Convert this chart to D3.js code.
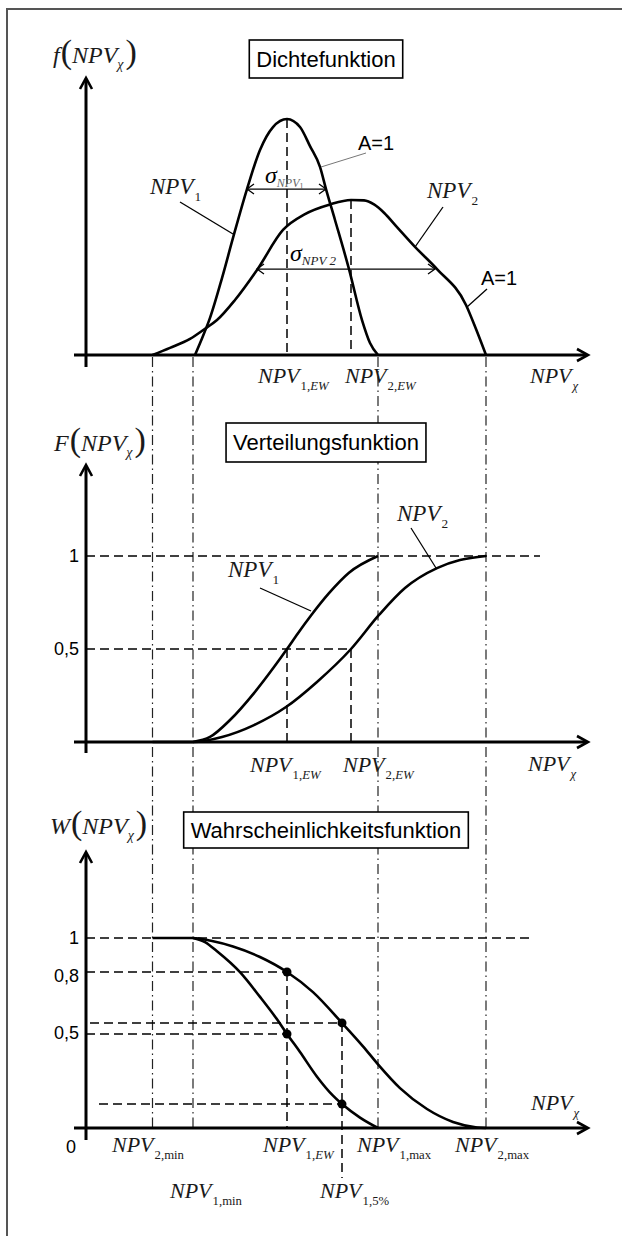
<!DOCTYPE html>
<html><head><meta charset="utf-8">
<script src="https://cdn.jsdelivr.net/npm/d3@7"></script>
<style>html,body{margin:0;padding:0;background:#fff;}svg{display:block;}</style>
</head><body>
<svg id="c" width="622" height="1236"></svg>
<script>
// ---------------- DATA ----------------
// reference NPV values (abstract units on the NPV axis)
const refNames  = ["NPV2,min", "NPV1,min", "NPV1,EW", "NPV1,5%", "NPV2,EW", "NPV1,max", "NPV2,max"];
const refValues = [13.3, 21.4, 40.2, 51.2, 53.0, 58.4, 80.0];

// density functions f(NPV)
const dens1X = [21.8, 22.8, 24.8, 27.2, 29.4, 32.2, 34.8, 37.4, 40.2, 42.8, 44.8, 46.8, 48.0, 49.8, 52.6, 55.2, 56.8, 58.4];
const dens1Y = [0, 0.05, 0.157, 0.326, 0.496, 0.703, 0.869, 0.966, 1.0, 0.966, 0.885, 0.797, 0.703, 0.572, 0.364, 0.148, 0.051, 0];
const dens2X = [13.3, 16.8, 20.8, 24.0, 26.2, 29.8, 34.2, 39.4, 43.8, 48.8, 53.0, 55.6, 57.6, 59.6, 62.2, 65.8, 70.2, 76.0, 78.0, 80.0];
const dens2Y = [0, 0.030, 0.068, 0.114, 0.148, 0.233, 0.360, 0.530, 0.597, 0.638, 0.657, 0.655, 0.638, 0.603, 0.542, 0.458, 0.364, 0.212, 0.110, 0];

// distribution functions F(NPV)
const cdf1X = [21.4, 24.8, 28.8, 33.6, 37.6, 40.2, 42.4, 45.0, 48.6, 52.6, 58.4];
const cdf1Y = [0, 0.027, 0.118, 0.263, 0.403, 0.5, 0.585, 0.68, 0.80, 0.91, 1.0];
const cdf2X = [13.3, 21.4, 27.2, 33.6, 40.0, 46.2, 53.0, 58.6, 63.8, 70.2, 74.8, 80.0];
const cdf2Y = [0, 0.0, 0.027, 0.091, 0.188, 0.323, 0.5, 0.683, 0.828, 0.935, 0.978, 1.0];

// probability functions W(NPV)
const w2X = [13.3, 21.4, 25.0, 29.4, 34.8, 40.2, 45.4, 51.2, 55.4, 58.4, 62.8, 68.2, 73.4, 78.2, 80.0];
const w2Y = [1.0, 1.0, 0.985, 0.955, 0.90, 0.821, 0.715, 0.553, 0.43, 0.335, 0.21, 0.10, 0.032, 0.003, 0];
const w1X = [21.4, 23.8, 26.2, 30.8, 34.8, 38.2, 40.2, 42.8, 46.2, 49.4, 51.2, 54.8, 58.4];
const w1Y = [1.0, 0.978, 0.93, 0.82, 0.69, 0.572, 0.495, 0.40, 0.27, 0.17, 0.126, 0.055, 0];

// marked points on W curves
const wDotX = [40.2, 51.2, 40.2, 51.2];
const wDotY = [0.821, 0.553, 0.495, 0.126];

// tick labels
const fTickVals = [1, 0.5];
const fTickLabels = ["1", "0,5"];
const wTickVals = [1, 0.8, 0.5];
const wTickLabels = ["1", "0,8", "0,5"];

const titles = ["Dichtefunktion", "Verteilungsfunktion", "Wahrscheinlichkeitsfunktion"];

// ---------------- DRAW ----------------
const serif = "'Liberation Serif','Times New Roman',serif";
const sans = "'Liberation Sans',Arial,sans-serif";
const svg = d3.select("#c");
const ref = {}; refNames.forEach((n, i) => ref[n] = refValues[i]);

const x = d3.scaleLinear().domain([0, 100]).range([86, 586]);
const yTop = d3.scaleLinear().domain([0, 1]).range([355, 119]);
const yMid = d3.scaleLinear().domain([0, 1]).range([742, 556]);
const yBot = d3.scaleLinear().domain([0, 1]).range([1128, 938]);

// frame
svg.append("path").attr("d", "M7,1236 V9 H622").attr("fill", "none")
  .attr("stroke", "#555").attr("stroke-width", 2);

function dashed(x1, y1, x2, y2, w) {
  svg.append("line").attr("x1", x1).attr("y1", y1).attr("x2", x2).attr("y2", y2)
    .attr("stroke", "#000").attr("stroke-width", w || 1.5).attr("stroke-dasharray", "9,5");
}
function plain(x1, y1, x2, y2, w, col) {
  svg.append("line").attr("x1", x1).attr("y1", y1).attr("x2", x2).attr("y2", y2)
    .attr("stroke", col || "#000").attr("stroke-width", w || 1.3);
}
function curve(xs, ys, ys2) {
  const pts = xs.map((v, i) => [x(v), ys2(ys[i])]);
  svg.append("path").attr("d", d3.line().curve(d3.curveMonotoneX)(pts))
    .attr("fill", "none").attr("stroke", "#000").attr("stroke-width", 2.6);
}
function axes(yAxisTop, yAxisBottom, xAxisY) {
  const g = svg.append("g").attr("stroke", "#000").attr("fill", "none").attr("stroke-width", 3);
  g.append("line").attr("x1", 86).attr("x2", 86).attr("y1", yAxisTop + 1).attr("y2", yAxisBottom);
  g.append("line").attr("x1", 74).attr("x2", 587).attr("y1", xAxisY).attr("y2", xAxisY);
  g.append("path").attr("d", `M${80},${yAxisTop + 11} L86,${yAxisTop} L92,${yAxisTop + 11}`).attr("stroke-width", 2.6);
  g.append("path").attr("d", `M577,${xAxisY - 6} L588,${xAxisY} L577,${xAxisY + 6}`).attr("stroke-width", 2.6);
}
function titleBox(txt, cy, h) {
  const g = svg.append("g");
  const t = g.append("text").attr("x", 326).attr("y", cy + 7.5).attr("text-anchor", "middle")
    .attr("font-family", sans).attr("font-size", 22).attr("fill", "#000").text(txt);
  const w = t.node().getComputedTextLength() + 14;
  g.insert("rect", "text").attr("x", 326 - w / 2).attr("y", cy - h / 2).attr("width", w).attr("height", h)
    .attr("fill", "#fff").attr("stroke", "#000").attr("stroke-width", 1.6);
}
// NPV with subscript parts [[text, italic], ...]
function npv(px, py, parts, size) {
  size = size || 22;
  const t = svg.append("text").attr("x", px).attr("y", py).attr("font-family", serif)
    .attr("font-size", size).attr("fill", "#1a1a1a");
  t.append("tspan").attr("font-style", "italic").text("NPV");
  parts.forEach((p, i) => {
    const ts = t.append("tspan").attr("font-size", size * 0.58).attr("font-style", p[1] ? "italic" : "normal").text(p[0]);
    if (i === 0) ts.attr("dy", size * 0.3).attr("dx", 1);
  });
  return t;
}
function funcLabel(letter, px, py) {
  const t = svg.append("text").attr("x", px).attr("y", py).attr("font-family", serif).attr("fill", "#1a1a1a");
  t.append("tspan").attr("font-style", "italic").attr("font-size", 24).text(letter);
  t.append("tspan").attr("font-size", 34).attr("dx", 1).text("(");
  t.append("tspan").attr("font-style", "italic").attr("font-size", 24).text("NPV");
  t.append("tspan").attr("font-style", "italic").attr("font-size", 14).attr("dy", 6).text("χ");
  t.append("tspan").attr("font-size", 34).attr("dy", -6).attr("dx", 2).text(")");
}
function sansText(txt, px, py, size, anchor) {
  svg.append("text").attr("x", px).attr("y", py).attr("font-family", sans).attr("font-size", size)
    .attr("text-anchor", anchor || "start").attr("fill", "#000").text(txt);
}
function sigmaArrow(x1, x2, yy) {
  plain(x1, yy, x2, yy, 1.3);
  svg.append("path").attr("d", `M${x1 + 7},${yy - 5} L${x1},${yy} L${x1 + 7},${yy + 5}`)
    .attr("fill", "none").attr("stroke", "#000").attr("stroke-width", 1.3);
  svg.append("path").attr("d", `M${x2 - 7},${yy - 5} L${x2},${yy} L${x2 - 7},${yy + 5}`)
    .attr("fill", "none").attr("stroke", "#000").attr("stroke-width", 1.3);
}

// dash-dot reference lines spanning all three panels
["NPV2,min", "NPV1,min", "NPV1,max", "NPV2,max"].forEach(n => {
  svg.append("line").attr("x1", x(ref[n])).attr("x2", x(ref[n])).attr("y1", yTop(0) + 2).attr("y2", yBot(0))
    .attr("stroke", "#222").attr("stroke-width", 1.2).attr("stroke-dasharray", "10,4,1.5,4");
});

// ===== Panel 1: density =====
titleBox(titles[0], 59, 38);
funcLabel("f", 53, 63);
dashed(x(ref["NPV1,EW"]), yTop(1), x(ref["NPV1,EW"]), yTop(0));
dashed(x(ref["NPV2,EW"]), yTop(0.657), x(ref["NPV2,EW"]), yTop(0));
curve(dens1X, dens1Y, yTop);
curve(dens2X, dens2Y, yTop);
axes(78, 367, yTop(0));
sigmaArrow(x(32.2), x(48.0), yTop(0.703));
sigmaArrow(x(34.2), x(69.8), yTop(0.364));
// sigma labels
{
  const t1 = svg.append("text").attr("x", 265).attr("y", 183).attr("font-family", serif).attr("fill", "#000");
  t1.append("tspan").attr("font-style", "italic").attr("font-size", 24).text("σ");
  t1.append("tspan").attr("font-style", "italic").attr("font-size", 12).attr("dy", 4).attr("fill", "#666").text("NPV");
  t1.append("tspan").attr("font-size", 8).attr("dy", 2).attr("fill", "#666").text("1");
  const t2 = svg.append("text").attr("x", 290).attr("y", 261).attr("font-family", serif).attr("fill", "#000");
  t2.append("tspan").attr("font-style", "italic").attr("font-size", 24).text("σ");
  t2.append("tspan").attr("font-style", "italic").attr("font-size", 13).attr("dy", 4).attr("fill", "#222").text("NPV 2");
}
npv(150, 194, [["1", false]], 23);
plain(180, 202, 233, 234, 1.3);
npv(427, 198, [["2", false]], 23);
plain(443, 207, 415, 247, 1.3);
sansText("A=1", 358, 150, 20);
plain(366, 153, 321, 167, 1, "#777");
sansText("A=1", 481, 285, 20);
plain(487, 289, 467, 307, 1.3);
npv(258, 383, [["1,", false], ["EW", true]]);
npv(345, 383, [["2,", false], ["EW", true]]);
npv(530, 383, [["χ", true]]);

// ===== Panel 2: distribution =====
titleBox(titles[1], 442.5, 39);
funcLabel("F", 54, 451);
dashed(86, yMid(1), x(90.8), yMid(1));
dashed(86, yMid(0.5), x(ref["NPV2,EW"]), yMid(0.5));
dashed(x(ref["NPV1,EW"]), yMid(0.5), x(ref["NPV1,EW"]), yMid(0));
dashed(x(ref["NPV2,EW"]), yMid(0.5), x(ref["NPV2,EW"]), yMid(0));
curve(cdf1X, cdf1Y, yMid);
curve(cdf2X, cdf2Y, yMid);
axes(465, 753, yMid(0));
fTickVals.forEach((v, i) => sansText(fTickLabels[i], 79, yMid(v) + 6, 18, "end"));
npv(228, 577, [["1", false]], 23);
plain(260, 588, 311, 611, 1.3);
npv(397, 521, [["2", false]], 23);
plain(411, 528, 436, 568, 1.3);
npv(250, 772, [["1,", false], ["EW", true]]);
npv(343, 772, [["2,", false], ["EW", true]]);
npv(528, 771, [["χ", true]]);

// ===== Panel 3: probability =====
titleBox(titles[2], 830, 36);
funcLabel("W", 50, 834);
dashed(86, yBot(1), x(88.6), yBot(1));
dashed(86, yBot(wDotY[0]), x(wDotX[0]), yBot(wDotY[0]));
dashed(90, yBot(wDotY[1]), x(wDotX[1]), yBot(wDotY[1]));
dashed(86, yBot(wDotY[2]), x(wDotX[2]), yBot(wDotY[2]));
dashed(99, yBot(wDotY[3]), x(wDotX[3]), yBot(wDotY[3]));
dashed(x(ref["NPV1,EW"]), yBot(wDotY[0]), x(ref["NPV1,EW"]), yBot(0));
dashed(x(ref["NPV1,5%"]), yBot(wDotY[1]), x(ref["NPV1,5%"]), 1178);
curve(w2X, w2Y, yBot);
curve(w1X, w1Y, yBot);
axes(852, 1140, yBot(0));
svg.selectAll("circle.dot").data(wDotX).join("circle").attr("class", "dot")
  .attr("cx", d => x(d)).attr("cy", (d, i) => yBot(wDotY[i])).attr("r", 4.5).attr("fill", "#000");
wTickVals.forEach((v, i) => sansText(wTickLabels[i], 79, yBot(v) + 6, 18, "end"));
sansText("0", 76, 1153, 18, "end");
npv(531, 1110, [["χ", true]]);
npv(112, 1152, [["2,min", false]]);
npv(263, 1152, [["1,", false], ["EW", true]]);
npv(357, 1152, [["1,max", false]]);
npv(455, 1152, [["2,max", false]]);
npv(170, 1198, [["1,min", false]]);
npv(320, 1198, [["1,5%", false]]);
</script>
</body></html>
